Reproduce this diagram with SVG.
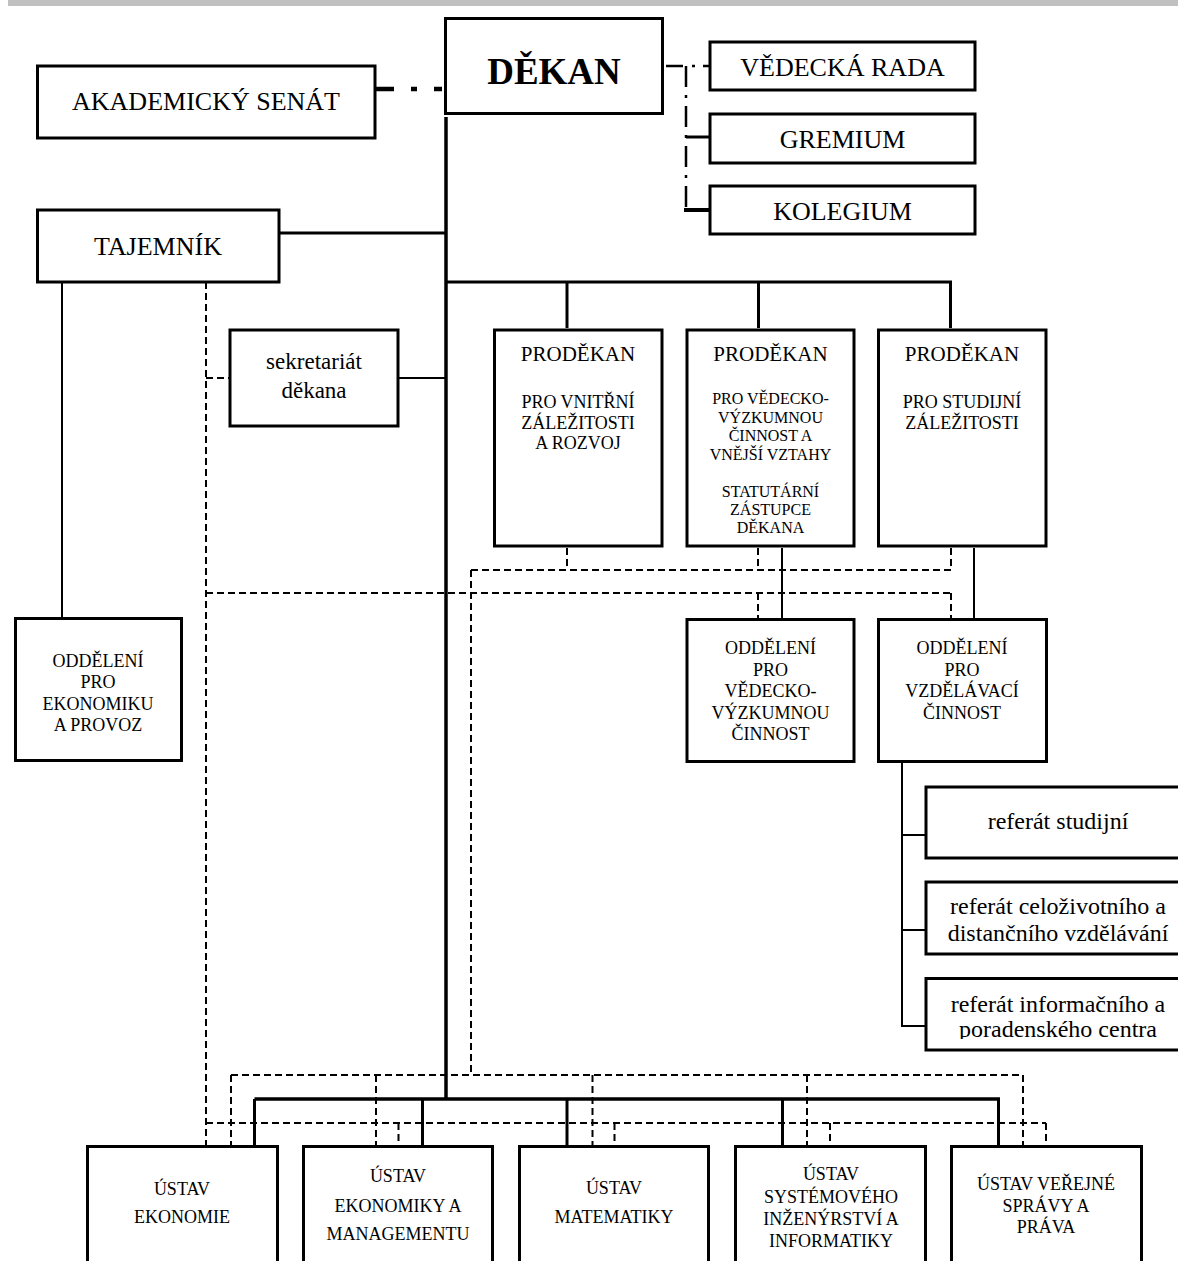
<svg xmlns="http://www.w3.org/2000/svg" width="1178" height="1261" viewBox="0 0 1178 1261" font-family="'Liberation Serif', 'Times New Roman', Times, 'DejaVu Serif', serif">
<style>
.box{fill:#fff;stroke:#000;stroke-width:3}
.t{font-family:'Liberation Serif','Times New Roman',Times,'DejaVu Serif',serif;text-anchor:middle;fill:#000}
.s{stroke:#000;fill:none}
.d{stroke:#000;fill:none;stroke-width:2;stroke-dasharray:7 4}
</style>
<defs>
<clipPath id="clipRef"><rect x="926" y="978" width="260" height="61"/></clipPath>
</defs>
<rect x="8" y="0" width="1170" height="6" fill="#c0c0c0"/>

<g id="connectors">
<line class="s" x1="375" y1="89" x2="442" y2="89" stroke-width="4.5" stroke-dasharray="19 17 6 17 8"/>
<line class="s" x1="666" y1="66" x2="710" y2="66" stroke-width="2.5" stroke-dasharray="17 9 3 8 10"/>
<line class="s" x1="686" y1="66" x2="686" y2="211" stroke-width="2.5" stroke-dasharray="21 8 3 8"/>
<line class="s" x1="686" y1="137" x2="710" y2="137" stroke-width="3"/>
<line class="s" x1="684" y1="210" x2="710" y2="210" stroke-width="4"/>
<line class="s" x1="446" y1="117" x2="446" y2="1100" stroke-width="3.5"/>
<line class="s" x1="279" y1="233" x2="446" y2="233" stroke-width="3"/>
<line class="s" x1="446" y1="282" x2="952" y2="282" stroke-width="3"/>
<line class="s" x1="567" y1="282" x2="567" y2="328" stroke-width="3"/>
<line class="s" x1="758.5" y1="282" x2="758.5" y2="328" stroke-width="3"/>
<line class="s" x1="950.5" y1="282" x2="950.5" y2="328" stroke-width="3"/>
<line class="s" x1="398" y1="378" x2="446" y2="378" stroke-width="2"/>
<line class="s" x1="62" y1="282" x2="62" y2="617" stroke-width="2"/>
<line class="s" x1="782" y1="548" x2="782" y2="618" stroke-width="2"/>
<line class="s" x1="974" y1="548" x2="974" y2="618" stroke-width="2"/>
<line class="s" x1="902" y1="762" x2="902" y2="1027" stroke-width="2"/>
<line class="s" x1="902" y1="835" x2="926" y2="835" stroke-width="2"/>
<line class="s" x1="902" y1="930" x2="926" y2="930" stroke-width="2"/>
<line class="s" x1="902" y1="1026" x2="926" y2="1026" stroke-width="2"/>
<line class="s" x1="254.5" y1="1099" x2="1000" y2="1099" stroke-width="3.5"/>
<line class="s" x1="254.5" y1="1099" x2="254.5" y2="1146" stroke-width="3"/>
<line class="s" x1="422.5" y1="1099" x2="422.5" y2="1146" stroke-width="3"/>
<line class="s" x1="567" y1="1099" x2="567" y2="1146" stroke-width="3"/>
<line class="s" x1="782.5" y1="1099" x2="782.5" y2="1146" stroke-width="3"/>
<line class="s" x1="998.5" y1="1099" x2="998.5" y2="1146" stroke-width="3"/>

<line class="d" x1="206" y1="282" x2="206" y2="1145"/>
<line class="d" x1="206" y1="378" x2="230" y2="378"/>
<line class="d" x1="206" y1="593" x2="951" y2="593"/>
<line class="d" x1="758" y1="593" x2="758" y2="618"/>
<line class="d" x1="951" y1="593" x2="951" y2="618"/>
<line class="d" x1="567" y1="548" x2="567" y2="570"/>
<line class="d" x1="758" y1="548" x2="758" y2="570"/>
<line class="d" x1="951" y1="548" x2="951" y2="570"/>
<line class="d" x1="471" y1="570" x2="951" y2="570"/>
<line class="d" x1="471" y1="570" x2="471" y2="1075"/>
<line class="d" x1="231" y1="1075" x2="1023" y2="1075"/>
<line class="d" x1="231" y1="1075" x2="231" y2="1145"/>
<line class="d" x1="376" y1="1075" x2="376" y2="1145"/>
<line class="d" x1="592.5" y1="1075" x2="592.5" y2="1145"/>
<line class="d" x1="807" y1="1075" x2="807" y2="1145"/>
<line class="d" x1="1023" y1="1075" x2="1023" y2="1145"/>
<line class="d" x1="206" y1="1123" x2="1046" y2="1123"/>
<line class="d" x1="398.5" y1="1123" x2="398.5" y2="1145"/>
<line class="d" x1="614.5" y1="1123" x2="614.5" y2="1145"/>
<line class="d" x1="830" y1="1123" x2="830" y2="1145"/>
<line class="d" x1="1046" y1="1123" x2="1046" y2="1145"/>
</g>

<g id="dekan">
<rect class="box" x="445.5" y="18.5" width="217" height="95" stroke-width="7"/>
<text class="t" x="554" y="84" font-size="37" font-weight="bold">DĚKAN</text>
</g>
<g id="akademicky-senat">
<rect class="box" x="37.5" y="66" width="337.5" height="72"/>
<text class="t" x="206" y="110" font-size="26">AKADEMICKÝ SENÁT</text>
</g>
<g id="vedecka-rada">
<rect class="box" x="710" y="42" width="265" height="48"/>
<text class="t" x="842.5" y="76" font-size="26">VĚDECKÁ RADA</text>
</g>
<g id="gremium">
<rect class="box" x="710" y="114" width="265" height="49"/>
<text class="t" x="842.5" y="148" font-size="26">GREMIUM</text>
</g>
<g id="kolegium">
<rect class="box" x="710" y="186" width="265" height="48"/>
<text class="t" x="842.5" y="220" font-size="26">KOLEGIUM</text>
</g>
<g id="tajemnik">
<rect class="box" x="37.5" y="210" width="241.5" height="72"/>
<text class="t" x="158" y="255" font-size="26">TAJEMNÍK</text>
</g>
<g id="sekretariat">
<rect class="box" x="230" y="330" width="168" height="96" stroke-width="2"/>
<text class="t" x="314" y="369" font-size="23">sekretariát</text>
<text class="t" x="314" y="398" font-size="23">děkana</text>
</g>
<g id="prodekan-vnitrni">
<rect class="box" x="494.5" y="330" width="167.5" height="216" stroke-width="4"/>
<text class="t" x="578" y="361" font-size="21">PRODĚKAN</text>
<text class="t" x="578" y="408" font-size="18">PRO VNITŘNÍ</text>
<text class="t" x="578" y="428.5" font-size="18">ZÁLEŽITOSTI</text>
<text class="t" x="578" y="449" font-size="18">A ROZVOJ</text>
</g>
<g id="prodekan-vedecko">
<rect class="box" x="687" y="330" width="167" height="216" stroke-width="4"/>
<text class="t" x="770.5" y="361" font-size="21">PRODĚKAN</text>
<text class="t" x="770.5" y="404" font-size="16">PRO VĚDECKO-</text>
<text class="t" x="770.5" y="422.5" font-size="16">VÝZKUMNOU</text>
<text class="t" x="770.5" y="441" font-size="16">ČINNOST A</text>
<text class="t" x="770.5" y="459.5" font-size="16">VNĚJŠÍ VZTAHY</text>
<text class="t" x="770.5" y="496.5" font-size="16">STATUTÁRNÍ</text>
<text class="t" x="770.5" y="514.5" font-size="16">ZÁSTUPCE</text>
<text class="t" x="770.5" y="533" font-size="16">DĚKANA</text>
</g>
<g id="prodekan-studijni">
<rect class="box" x="878.5" y="330" width="167.5" height="216" stroke-width="4"/>
<text class="t" x="962" y="361" font-size="21">PRODĚKAN</text>
<text class="t" x="962" y="408" font-size="18">PRO STUDIJNÍ</text>
<text class="t" x="962" y="428.5" font-size="18">ZÁLEŽITOSTI</text>
</g>
<g id="oddeleni-ekonomika">
<rect class="box" x="15.5" y="618.5" width="166" height="142"/>
<text class="t" x="98" y="667" font-size="18">ODDĚLENÍ</text>
<text class="t" x="98" y="688" font-size="18">PRO</text>
<text class="t" x="98" y="710" font-size="18">EKONOMIKU</text>
<text class="t" x="98" y="731" font-size="18">A PROVOZ</text>
</g>
<g id="oddeleni-vedecko">
<rect class="box" x="687" y="619.5" width="167" height="142"/>
<text class="t" x="770.5" y="654" font-size="18">ODDĚLENÍ</text>
<text class="t" x="770.5" y="675.5" font-size="18">PRO</text>
<text class="t" x="770.5" y="697" font-size="18">VĚDECKO-</text>
<text class="t" x="770.5" y="718.5" font-size="18">VÝZKUMNOU</text>
<text class="t" x="770.5" y="740" font-size="18">ČINNOST</text>
</g>
<g id="oddeleni-vzdelavaci">
<rect class="box" x="878.5" y="619.5" width="168" height="142"/>
<text class="t" x="962" y="654" font-size="18">ODDĚLENÍ</text>
<text class="t" x="962" y="675.5" font-size="18">PRO</text>
<text class="t" x="962" y="697" font-size="18">VZDĚLÁVACÍ</text>
<text class="t" x="962" y="718.5" font-size="18">ČINNOST</text>
</g>
<g id="referat-studijni">
<rect class="box" x="926" y="787" width="260" height="71" stroke-width="2"/>
<text class="t" x="1058" y="829" font-size="24">referát studijní</text>
</g>
<g id="referat-celozivotni">
<rect class="box" x="926" y="882" width="260" height="72" stroke-width="2"/>
<text class="t" x="1058" y="914" font-size="24">referát celoživotního a</text>
<text class="t" x="1058" y="941" font-size="24">distančního vzdělávání</text>
</g>
<g id="referat-informacni">
<rect class="box" x="926" y="978.5" width="260" height="71.5" stroke-width="2"/>
<g clip-path="url(#clipRef)">
<text class="t" x="1058" y="1012" font-size="24">referát informačního a</text>
<text class="t" x="1058" y="1037" font-size="24">poradenského centra</text>
</g>
</g>
<g id="ustav-ekonomie">
<rect class="box" x="87.5" y="1146.5" width="190" height="130"/>
<text class="t" x="182" y="1195" font-size="18">ÚSTAV</text>
<text class="t" x="182" y="1223" font-size="18">EKONOMIE</text>
</g>
<g id="ustav-ekonomiky">
<rect class="box" x="303.5" y="1146.5" width="189" height="130"/>
<text class="t" x="398" y="1182" font-size="18">ÚSTAV</text>
<text class="t" x="398" y="1211.5" font-size="18">EKONOMIKY A</text>
<text class="t" x="398" y="1239.5" font-size="18">MANAGEMENTU</text>
</g>
<g id="ustav-matematiky">
<rect class="box" x="519.5" y="1146.5" width="189" height="130"/>
<text class="t" x="614" y="1194" font-size="18">ÚSTAV</text>
<text class="t" x="614" y="1222.5" font-size="18">MATEMATIKY</text>
</g>
<g id="ustav-systemoveho">
<rect class="box" x="735.5" y="1146.5" width="190" height="130"/>
<text class="t" x="831" y="1180" font-size="18">ÚSTAV</text>
<text class="t" x="831" y="1202.5" font-size="18">SYSTÉMOVÉHO</text>
<text class="t" x="831" y="1225" font-size="18">INŽENÝRSTVÍ A</text>
<text class="t" x="831" y="1246.5" font-size="18">INFORMATIKY</text>
</g>
<g id="ustav-verejne">
<rect class="box" x="951.5" y="1146.5" width="190" height="130"/>
<text class="t" x="1046" y="1190" font-size="18">ÚSTAV VEŘEJNÉ</text>
<text class="t" x="1046" y="1211.5" font-size="18">SPRÁVY A</text>
<text class="t" x="1046" y="1233" font-size="18">PRÁVA</text>
</g>
</svg>
